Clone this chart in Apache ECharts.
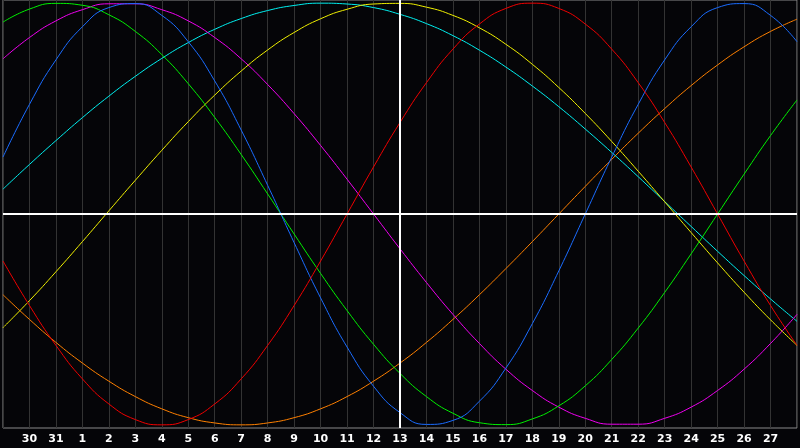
<!DOCTYPE html>
<html>
<head>
<meta charset="utf-8">
<title>Biorhythm</title>
<script src="https://cdn.jsdelivr.net/npm/echarts@6/dist/echarts.min.js"></script>
<style>
    html, body { margin: 0; padding: 0; background: #050508; }
    #chart { width: 800px; height: 448px; }
</style>
</head>
<body>
<div id="chart"></div>
<script>
// days shown on the axis (first and last sit on the frame, unlabeled)
const days = ['29', '30', '31', '1', '2', '3', '4', '5', '6', '7', '8', '9', '10', '11', '12',
    '13', '14', '15', '16', '17', '18', '19', '20', '21', '22', '23', '24', '25', '26', '27', '28'];
const today = '13';

// cycle values per day (-100 .. 100)
const physical = [27.0, 52.0, 73.1, 88.8, 97.9, 99.8, 94.2, 81.7, 63.1, 39.8, 13.6, -13.6, -39.8, -63.1, -81.7, -94.2,
    -99.8, -97.9, -88.8, -73.1, -52.0, -27.0, 0, 27.0, 52.0, 73.1, 88.8, 97.9, 99.8, 94.2, 81.7];
const emotional = [-22.3, -43.4, -62.3, -78.2, -90.1, -97.5, -100, -97.5, -90.1, -78.2, -62.3, -43.4, -22.3, 0, 22.3, 43.4,
    62.3, 78.2, 90.1, 97.5, 100, 97.5, 90.1, 78.2, 62.3, 43.4, 22.3, 0, -22.3, -43.4, -62.3];
const intellectual = [91.0, 97.2, 99.9, 99.0, 94.5, 86.6, 75.6, 61.8, 45.8, 28.2, 9.5, -9.5, -28.2, -45.8, -61.8, -75.6,
    -86.6, -94.5, -99.0, -99.9, -97.2, -91.0, -81.5, -69.0, -54.1, -37.2, -18.9, 0, 18.9, 37.2, 54.1];
const intuitive = [73.6, 83.7, 91.6, 96.9, 99.7, 99.7, 96.9, 91.6, 83.7, 73.6, 61.4, 47.6, 32.5, 16.5, 0, -16.5,
    -32.5, -47.6, -61.4, -73.6, -83.7, -91.6, -96.9, -99.7, -99.7, -96.9, -91.6, -83.7, -73.6, -61.4, -47.6];
const aesthetic = [-53.9, -41.1, -27.4, -13.1, 1.5, 16.0, 30.2, 43.8, 56.4, 67.8, 77.8, 86.1, 92.6, 97.1, 99.6, 99.9,
    98.1, 94.2, 88.3, 80.5, 71.0, 60.0, 47.7, 34.4, 20.3, 5.8, -8.8, -23.2, -37.1, -50.2, -62.3];
const awareness = [-38.3, -50.0, -60.9, -70.7, -79.3, -86.6, -92.4, -96.6, -99.1, -100, -99.1, -96.6, -92.4, -86.6, -79.3, -70.7,
    -60.9, -50.0, -38.3, -25.9, -13.1, 0, 13.1, 25.9, 38.3, 50.0, 60.9, 70.7, 79.3, 86.6, 92.4];
const spiritual = [11.8, 23.5, 34.8, 45.7, 55.9, 65.3, 73.8, 81.3, 87.6, 92.7, 96.5, 98.9, 100.0, 99.6, 97.9, 94.7,
    90.3, 84.6, 77.7, 69.7, 60.7, 50.9, 40.3, 29.2, 17.7, 5.9, -5.9, -17.7, -29.2, -40.3, -50.9];

class BiorhythmChart {
    constructor(container) {
        this.container = document.querySelector(container);
        this.chart = null;
        this.cycles = [
            { name: 'Awareness', data: awareness, color: '#ff8000' },
            { name: 'Spiritual', data: spiritual, color: '#00f0f0' },
            { name: 'Intuitive', data: intuitive, color: '#f000f0' },
            { name: 'Aesthetic', data: aesthetic, color: '#f0f000' },
            { name: 'Intellectual', data: intellectual, color: '#00f000' },
            { name: 'Physical', data: physical, color: '#1a6cff' },
            { name: 'Emotional', data: emotional, color: '#f00000' }
        ];
    }

    init() {
        if (!this.container) {
            console.error('[BiorhythmChart] no container');
            return;
        }
        this.chart = echarts.init(this.container);
        this.render();
    }

    render() {
        const series = this.cycles.map(c => ({
            name: c.name,
            type: 'line',
            data: c.data,
            smooth: true,
            showSymbol: false,
            lineStyle: { color: c.color, width: 1 },
            itemStyle: { color: c.color }
        }));

        // today / zero cross-hair
        series.push({
            type: 'line',
            data: [],
            markLine: {
                silent: true,
                symbol: 'none',
                label: { show: false },
                lineStyle: { color: '#ffffff', width: 2, type: 'solid' },
                data: [{ xAxis: today }, { yAxis: 0 }]
            }
        });

        this.chart.setOption({
            backgroundColor: '#050508',
            animation: false,
            grid: {
                left: 0, right: 0, top: 0, bottom: 20,
                show: true,
                borderColor: '#8a8a8a',
                borderWidth: 1
            },
            xAxis: {
                type: 'category',
                data: days,
                boundaryGap: false,
                axisLine: { show: false },
                axisTick: { show: false },
                axisLabel: {
                    interval: 0,
                    margin: 6,
                    color: '#ffffff',
                    fontFamily: 'DejaVu Sans',
                    fontWeight: 'bold',
                    fontSize: 11,
                    formatter: (v, i) => (i === 0 || i === days.length - 1) ? '' : v
                },
                splitLine: { show: true, lineStyle: { color: '#333333', width: 1 } }
            },
            yAxis: {
                type: 'value',
                min: -101.5,
                max: 101.5,
                show: false,
                splitLine: { show: false }
            },
            series: series
        });
    }
}

new BiorhythmChart('#chart').init();
</script>
</body>
</html>
